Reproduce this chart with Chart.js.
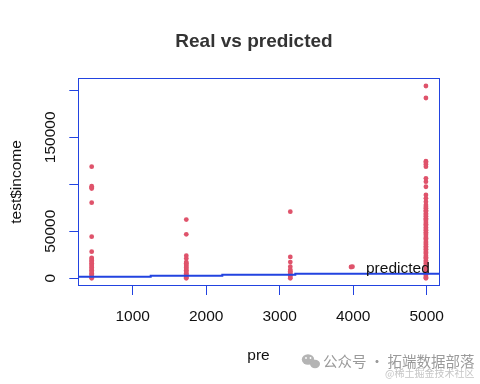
<!DOCTYPE html>
<html><head><meta charset="utf-8">
<script src="https://cdn.jsdelivr.net/npm/chart.js@4.4.0/dist/chart.umd.min.js"></script>
<style>html,body{margin:0;padding:0;background:#fff;}#wrap{width:480px;height:384px;}</style>
</head><body><div id="wrap"><canvas id="c" width="480" height="384"></canvas></div>
<script>
// ---- data ----
const preLevels = [442, 1729, 3144, 4989];
const income442 = [118700, 98000, 96500, 95500, 80400, 44300, 28300, 21800, 20500, 19000, 17500, 16000, 14500, 13000, 11500, 10000, 8500, 7000, 5500, 4000, 2500, 1000, 0];
const income1729 = [62500, 46800, 24000, 21000, 17300, 16000, 14500, 13000, 11500, 10000, 8500, 7000, 5500, 4000, 2500, 1000, 0];
const income3144 = [70900, 22700, 17300, 12300, 9000, 7500, 6000, 4500, 3000, 1500, 0];
const income4989 = [204600, 191800, 124500, 122800, 121000, 118700, 106400, 102800, 97400, 88600, 85100, 81500, 78000, 76000, 74500, 72500, 71000, 69000, 67500, 66000, 64000, 62500, 61000, 59000, 57500, 56000, 54000, 52500, 51000, 49000, 47500, 46000, 44000, 42500, 41000, 39000, 37500, 36000, 34000, 32500, 31000, 29000, 27500, 26000, 24000, 22500, 21000, 19000, 17500, 16000, 14000, 12500, 11000, 9000, 7500, 6000, 4000, 2500, 1000, 0];
const extraPre = [3970, 3990];
const extraIncome = [12000, 12300];
const predPre = [260, 1245, 2219, 3212, 4201, 5171];
const predIncome = [500, 1700, 2800, 3850, 4900, 4900];
const xTicks = [1000, 2000, 3000, 4000, 5000];
const xTickLabels = ['1000', '2000', '3000', '4000', '5000'];
const yTicks = [0, 50000, 100000, 150000, 200000];
const yTickLabels = ['0', '50000', '', '150000', ''];
const titleText = 'Real vs predicted';
const xTitle = 'pre';
const yTitle = 'test$income';
const legendText = 'predicted';

// ---- build ----
const BLUE = '#2243e0';
const RED = '#df536b';
const FONT = '"Liberation Sans", Arial, sans-serif';
const groups = [income442, income1729, income3144, income4989];
const pts = [];
groups.forEach((g, i) => g.forEach(v => pts.push({x: preLevels[i], y: v})));
extraPre.forEach((p, i) => pts.push({x: p, y: extraIncome[i]}));
const lineData = predPre.map((p, i) => ({x: p, y: predIncome[i]}));

const decor = {
  id: 'decor',
  afterDraw(chart) {
    const c = chart.ctx;
    const xs = chart.scales.x, ys = chart.scales.y;
    c.save();
    // box
    c.strokeStyle = BLUE; c.lineWidth = 1;
    c.strokeRect(78.5, 78.5, 361, 207);
    // x tick labels
    c.fillStyle = '#111';
    c.font = '15.5px ' + FONT;
    c.textAlign = 'center'; c.textBaseline = 'alphabetic';
    xTicks.forEach((v, i) => c.fillText(xTickLabels[i], xs.getPixelForValue(v), 320.5));
    // y tick labels (rotated)
    yTicks.forEach((v, i) => {
      if (!yTickLabels[i]) return;
      c.save();
      c.translate(55.3, ys.getPixelForValue(v));
      c.rotate(-Math.PI / 2);
      c.fillText(yTickLabels[i], 0, 0);
      c.restore();
    });
    // axis titles
    c.fillText(xTitle, 258.5, 360);
    c.save();
    c.translate(20.5, 182);
    c.rotate(-Math.PI / 2);
    c.fillText(yTitle, 0, 0);
    c.restore();
    // legend text
    c.textAlign = 'left';
    c.fillText(legendText, 366, 273.3);
    // title
    c.fillStyle = '#333';
    c.font = 'bold 19px ' + FONT;
    c.textAlign = 'center';
    c.fillText(titleText, 254, 46.5);
    // watermark
    c.fillStyle = '#b4b4b4';
    c.beginPath(); c.ellipse(308, 359.5, 6.2, 5.2, 0, 0, Math.PI * 2); c.fill();
    c.beginPath(); c.ellipse(315, 364, 5, 4.2, 0, 0, Math.PI * 2); c.fill();
    c.fillStyle = '#fff';
    c.beginPath(); c.arc(306, 358, 0.9, 0, 7); c.fill();
    c.beginPath(); c.arc(310.5, 358, 0.9, 0, 7); c.fill();
    c.fillStyle = '#9a9a9a';
    c.font = '14.5px "Noto Sans CJK SC", sans-serif';
    c.textAlign = 'left';
    c.fillText('公众号 · 拓端数据部落', 323, 367);
    c.fillStyle = '#c6c6c6';
    c.font = '10px "Noto Sans CJK SC", sans-serif';
    c.fillText('@稀土掘金技术社区', 385, 377);
    c.restore();
  }
};

new Chart(document.getElementById('c'), {
  type: 'scatter',
  data: {
    datasets: [
      {type: 'line', data: lineData, borderColor: BLUE, borderWidth: 2, stepped: 'after', pointRadius: 0, fill: false, order: 0},
      {data: pts, backgroundColor: RED, borderWidth: 0, pointRadius: 2.4, pointHoverRadius: 2.4, order: 1}
    ]
  },
  options: {
    responsive: false, animation: false, devicePixelRatio: 1,
    layout: {padding: {top: 78.3, right: 40.7, left: 0, bottom: 0}},
    plugins: {legend: {display: false}, tooltip: {enabled: false}, title: {display: false}},
    scales: {
      x: {
        type: 'linear', min: 260, max: 5171,
        afterBuildTicks: s => { s.ticks = xTicks.map(v => ({value: v})); },
        afterFit: s => { s.height = 98; },
        ticks: {display: false},
        grid: {drawOnChartArea: false, drawTicks: true, tickLength: 9, color: BLUE, lineWidth: 1},
        border: {display: false}
      },
      y: {
        type: 'linear', min: -8191, max: 212766,
        afterBuildTicks: s => { s.ticks = yTicks.map(v => ({value: v})); },
        afterFit: s => { s.width = 78.3; },
        ticks: {display: false},
        grid: {drawOnChartArea: false, drawTicks: true, tickLength: 9, color: BLUE, lineWidth: 1},
        border: {display: false}
      }
    }
  },
  plugins: [decor]
});
</script></body></html>
